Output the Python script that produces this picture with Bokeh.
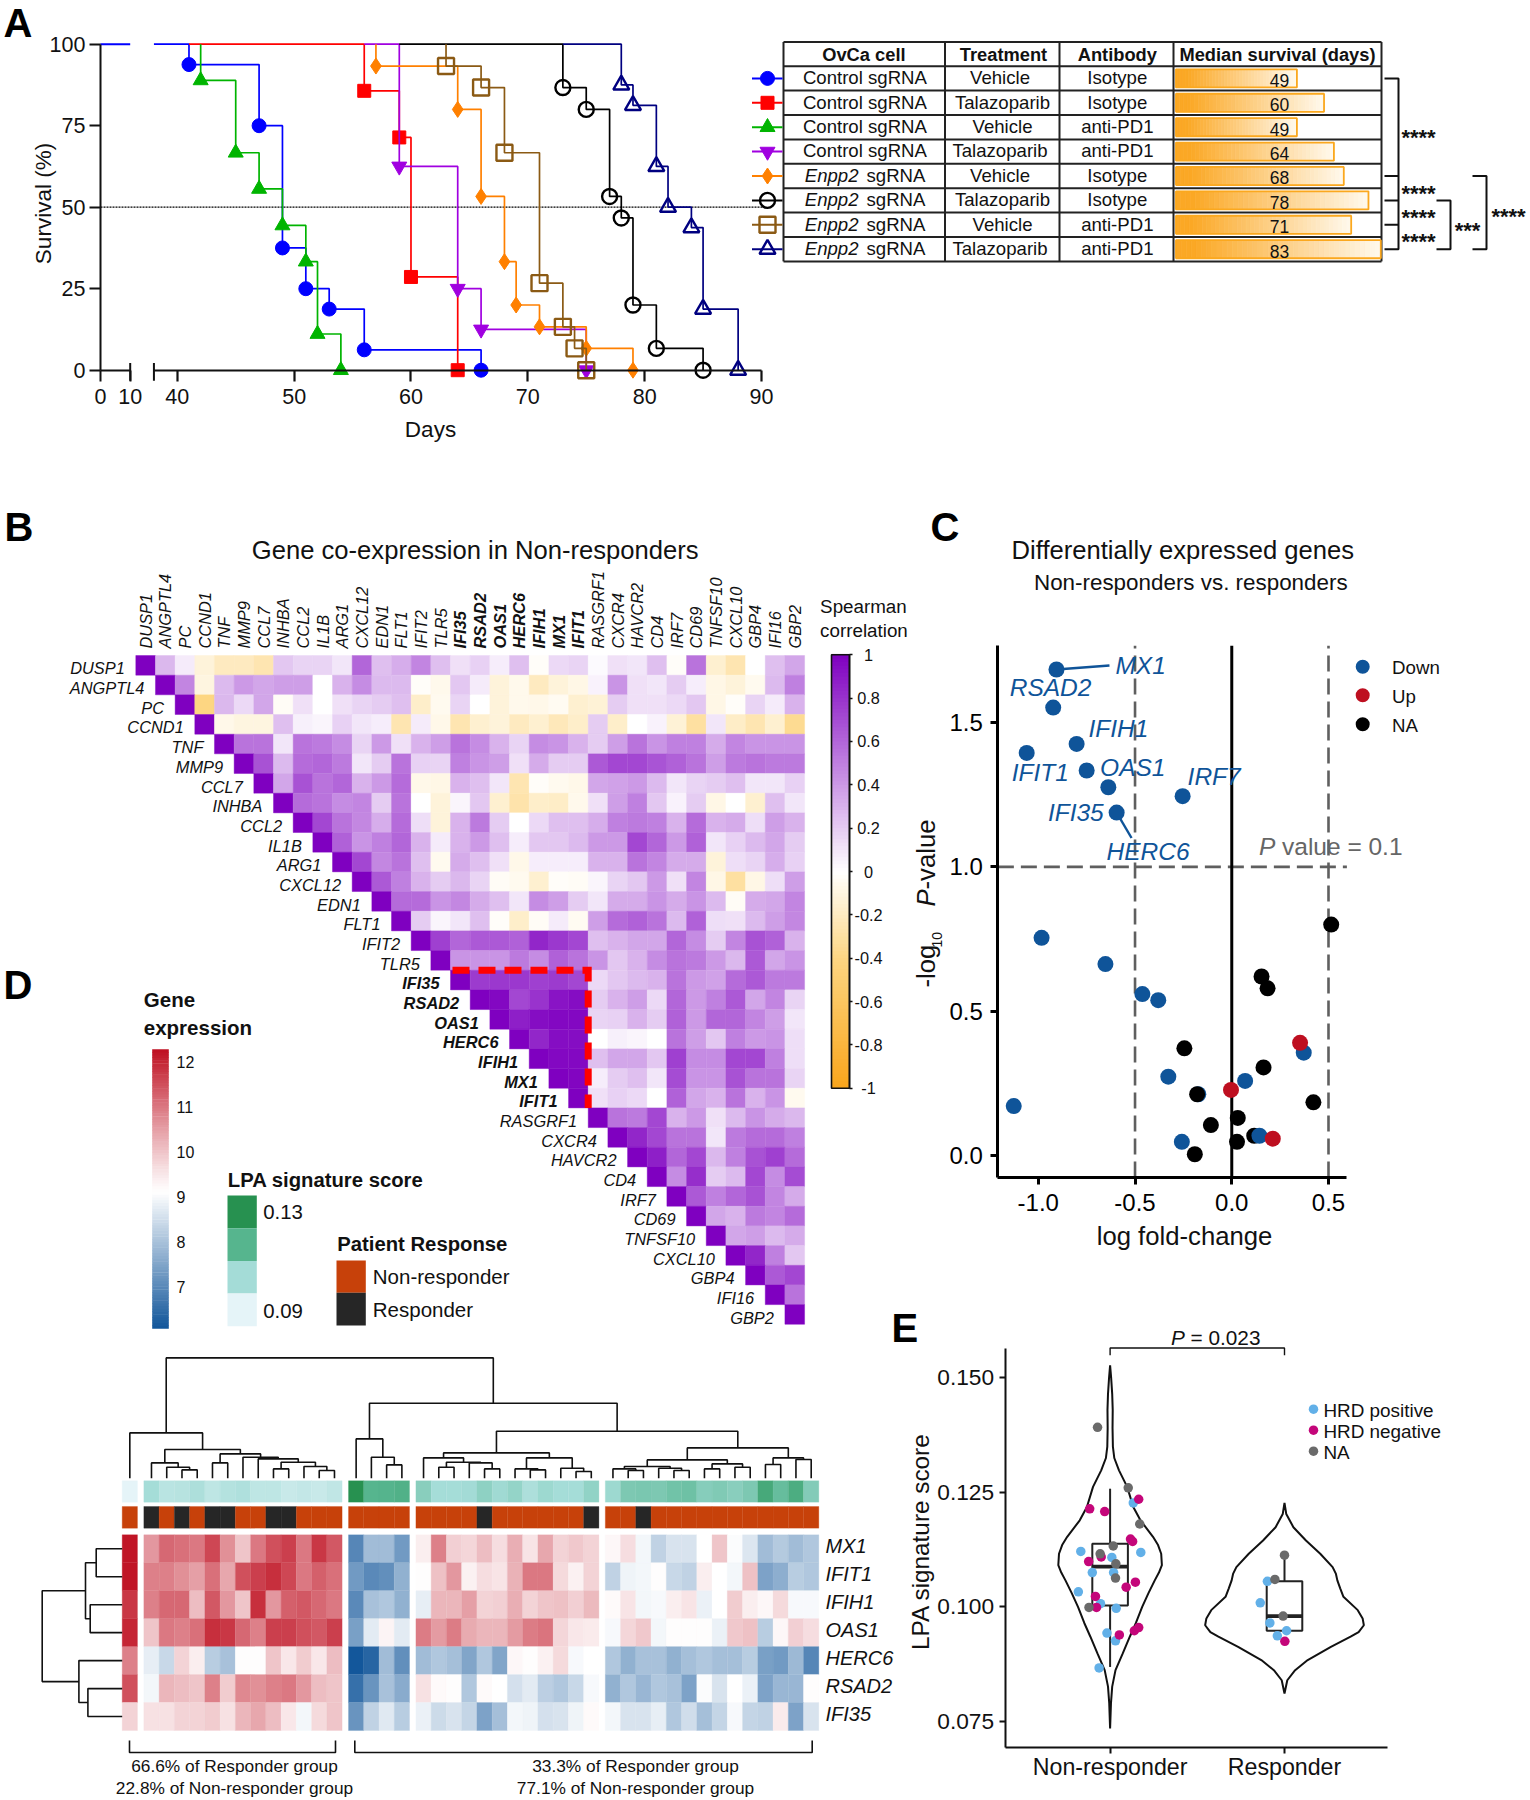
import math
from bokeh.plotting import figure
from bokeh.models import Range1d, LinearAxis, FixedTicker, PrintfTickFormatter
from bokeh.core.properties import value
from bokeh.embed import file_html
from bokeh.resources import INLINE

FONT = "Liberation Sans"
W, H = 1530, 1800

# ---------------- Panel A data ----------------
blue_d = [38, 41, 47, 49, 51, 53, 56, 66];      blue_s = [100, 93.75, 75, 37.5, 25, 18.75, 6.25, 0]
red_d = [41, 56, 59, 60, 64];                   red_s = [100, 85.7, 71.4, 28.6, 0]
green_d = [42, 42, 45, 47, 49, 51, 52, 54];     green_s = [100, 88.9, 66.7, 55.6, 44.4, 33.3, 11.1, 0]
purple_d = [56, 59, 64, 66, 75];                purple_s = [100, 62.5, 25, 12.5, 0]
orange_d = [57, 57, 64, 66, 68, 69, 71, 75, 79]; orange_s = [100, 93.3, 80, 53.3, 33.3, 20, 13.3, 6.7, 0]
black_d = [59, 73, 75, 77, 78, 79, 81, 85];     black_s = [100, 86.7, 80, 53.3, 46.7, 20, 6.7, 0]
brown_d = [63, 63, 66, 68, 71, 73, 74, 75];     brown_s = [100, 93.3, 86.7, 66.7, 26.7, 13.3, 6.7, 0]
navy_d = [73, 78, 79, 81, 82, 84, 85, 88];      navy_s = [100, 87.5, 81.25, 62.5, 50, 43.75, 18.75, 0]
cells = ["Control sgRNA"] * 4 + ["sgRNA"] * 4
treatment = ["Vehicle", "Talazoparib", "Vehicle", "Talazoparib", "Vehicle", "Talazoparib", "Vehicle", "Talazoparib"]
antibody = ["Isotype", "Isotype", "anti-PD1", "anti-PD1", "Isotype", "Isotype", "anti-PD1", "anti-PD1"]
median_days = [49, 60, 49, 64, 68, 78, 71, 83]

# ---------------- Panel B data ----------------
genes = ["DUSP1", "ANGPTL4", "PC", "CCND1", "TNF", "MMP9", "CCL7", "INHBA", "CCL2", "IL1B", "ARG1", "CXCL12", "EDN1",
         "FLT1", "IFIT2", "TLR5", "IFI35", "RSAD2", "OAS1", "HERC6", "IFIH1", "MX1", "IFIT1", "RASGRF1", "CXCR4",
         "HAVCR2", "CD4", "IRF7", "CD69", "TNFSF10", "CXCL10", "GBP4", "IFI16", "GBP2"]
bold_genes = ["IFI35", "RSAD2", "OAS1", "HERC6", "IFIH1", "MX1", "IFIT1"]
corr_rows = [
 [.28,.08,-.12,-.2,-.2,-.25,.22,.17,.17,.1,.6,.25,.32,.48,.25,.12,.18,.07,.25,-.02,.15,.17,.02,.12,.1,.25,-.02,.55,-.15,-.25,0,.25,.35],
 [.48,-.1,.27,.4,.35,.38,.38,0,.3,.45,.27,.27,-.02,-.06,.22,.08,-.12,-.06,-.2,-.12,-.08,.05,.42,.12,.1,.2,.07,-.08,-.12,-.05,.27,.5],
 [-.4,.28,.15,.35,-.03,.12,0,.12,.17,.2,.25,-.17,-.05,.17,0,-.12,-.06,-.07,-.04,-.15,-.13,.2,.12,.12,.15,.22,-.08,-.02,.17,.08,.3],
 [-.07,-.1,-.1,.25,.06,.04,.18,.1,.07,-.25,.08,-.07,-.25,-.15,-.12,-.2,-.15,-.22,-.17,.2,-.17,0,.05,-.13,-.3,.1,-.18,-.25,-.15,-.35],
 [.55,.55,.1,.55,.52,.45,.17,.4,.12,.3,.38,.55,.45,.3,.17,.45,.42,.3,.2,.38,.55,.42,.5,.5,.33,.48,.42,.42,.42],
 [.68,.27,.58,.6,.52,.1,.2,.55,.18,.17,.5,.42,.38,.12,.33,.2,.2,.65,.72,.72,.67,.62,.55,.38,.52,.55,.52,.52],
 [.35,.68,.55,.6,.3,.4,.58,-.07,-.08,.3,.25,.1,-.25,-.02,-.05,-.07,.35,.37,.4,.27,.1,.17,.2,.25,.1,.1,.18],
 [.58,.55,.45,.48,.2,.55,0,-.12,.04,.22,-.15,-.27,-.17,-.18,-.06,.12,.38,.5,.22,.05,.2,-.08,0,-.15,.25,.1],
 [.72,.55,.47,.32,.58,.13,-.12,.3,.52,.2,0,.15,.25,.25,.32,.5,.52,.5,.3,.58,.3,.33,.13,.38,.3],
 [.62,.42,.5,.6,.3,.08,.3,.4,.25,.07,.22,.22,.27,.4,.4,.72,.6,.4,.62,.1,.18,.27,.35,.2],
 [.72,.47,.55,.25,-.05,.33,.25,.12,-.07,.07,.07,.07,.3,.3,.55,.48,.33,.33,-.12,.13,.17,.32,.18],
 [.65,.5,.3,.2,.28,.17,-.03,-.05,-.15,-.02,-.03,.04,.17,.22,.4,.12,.48,-.08,-.3,-.08,.13,.38],
 [.58,.58,.42,.47,.33,.25,.1,.45,.38,.2,.1,.33,.33,.42,.33,.42,.27,-.03,.33,.35,.48],
 [.2,.04,.1,.25,-.02,-.17,-.03,.08,-.04,.38,.58,.62,.55,.27,.62,.13,.12,.27,.38,.47],
 [.75,.6,.65,.65,.62,.85,.78,.72,.25,.3,.35,.35,.6,.45,.2,.48,.68,.62,.3],
 [.42,.42,.42,.52,.45,.62,.55,.42,.22,.3,.45,.55,.52,.4,.28,.65,.35,.42],
 [.77,.78,.78,.75,.77,.72,.15,.22,.27,.3,.55,.4,.37,.58,.65,.52,.52],
 [.97,.72,.8,.92,.95,.2,.3,.38,.15,.6,.4,.5,.65,.35,.48,.17],
 [.88,.95,.97,.97,.17,.18,.3,.2,.62,.4,.6,.6,.48,.38,.1],
 [.85,.95,.95,0,.06,.04,0,.55,.38,.22,.5,.4,.42,.13],
 [.97,.97,.25,.35,.35,.22,.75,.45,.45,.72,.72,.5,.13],
 [.98,.07,.2,.25,.1,.7,.42,.42,.68,.55,.55,.17],
 [.12,.18,.15,0,.62,.35,.3,.55,.3,.42,-.05],
 [.55,.52,.72,.3,.4,.12,.27,.42,.33,.28],
 [.85,.72,.55,.55,.1,.52,.58,.58,.5],
 [.88,.6,.72,.28,.5,.68,.75,.58],
 [.45,.82,.2,.27,.72,.45,.7],
 [.65,.5,.6,.68,.48,.33],
 [.35,.3,.52,.48,.58],
 [.35,.38,.27,.33],
 [.85,.5,.22],
 [.65,.72],
 [.55],
 [],
]
corr_ticks = [1, .8, .6, .4, .2, 0, -.2, -.4, -.6, -.8, -1]
corr_tick_labels = ["1", "0.8", "0.6", "0.4", "0.2", "0", "-0.2", "-0.4", "-0.6", "-0.8", "-1"]

# ---------------- Panel C data ----------------
down_fc = [-.906,-.923,-.802,-1.06,-.75,-.638,-.254,-.595,-.983,-.653,-.462,-.38,.372,-.328,.069,-.173,-1.127,-.258,.143]
down_p = [1.684,1.552,1.426,1.395,1.334,1.276,1.245,1.188,.754,.663,.559,.538,.356,.273,.258,.212,.171,.047,.068]
up_fc = [.353,-.004,.212]
up_p = [.39,.227,.058]
na_fc = [.514,.154,.185,-.245,.164,-.179,.422,.031,-.108,.027,-.191]
na_p = [.80,.62,.579,.371,.305,.212,.184,.13,.105,.047,.004]
na_back_fc = [.116]
na_back_p = [.068]

# ---------------- Panel D data ----------------
hm_genes = ["MX1", "IFIT1", "IFIH1", "OAS1", "HERC6", "RSAD2", "IFI35"]
cluster_sizes = [1, 13, 4, 12, 14]
MX1 = [12.2, 10.6,11.2,11.1,11.0,11.6,10.7,10.0,11.0,11.5,11.7,11.0,11.8,11.4, 6.95,7.9,7.9,7.3,
       9.4,10.9,9.85,9.75,10.1,9.65,10.3,9.55,10.4,9.8,9.95,9.8, 9.25,9.65,8.95,8.3,8.6,8.6,9.1,10.0,9.05,8.65,7.9,8.15,7.9,8.1]
IFIT1 = [12.2, 10.9,10.9,10.7,10.5,11.1,10.4,11.5,11.7,11.9,11.6,11.0,11.3,11.1, 7.3,7.0,7.1,7.7,
         9.15,10.05,10.6,9.35,9.65,9.55,10.25,11.0,11.0,9.7,9.35,9.8, 8.3,8.9,8.95,9.15,8.4,8.3,9.4,9.1,8.95,10.05,7.45,7.65,8.2,8.1]
IFIH1 = [11.8, 10.9,11.2,11.2,10.1,11.4,10.6,10.0,11.9,10.6,11.3,11.4,11.2,11.0, 7.0,8.0,8.1,7.7,
         8.8,10.2,10.2,10.5,9.8,9.85,10.3,9.8,10.0,10.05,9.85,10.15, 9.2,9.55,8.95,9.0,9.4,9.55,8.85,9.1,9.9,9.4,9.25,9.7,9.0,9.0]
OAS1 = [12.0, 10.0,11.0,10.9,11.1,11.9,11.8,11.2,10.9,11.7,11.7,11.5,11.4,11.7, 7.4,8.75,9.3,8.75,
        10.95,10.55,10.95,10.35,10.2,10.2,10.55,10.95,11.05,9.75,9.5,9.45, 9.0,9.75,9.95,8.95,9.15,9.15,9.15,8.85,9.95,10.05,8.2,9.25,9.85,9.65]
HERC6 = [10.9, 8.8,8.4,9.8,9.4,8.2,8.0,9.15,9.15,10.0,9.5,9.9,9.5,10.1, 6.1,6.35,7.9,7.1,
         7.9,8.1,7.95,7.5,8.1,7.5,9.25,9.15,9.35,9.7,9.0,9.1, 8.1,7.7,8.0,8.0,7.7,7.95,8.1,7.95,7.95,8.2,7.4,7.3,7.85,6.95]
RSAD2 = [11.5, 8.95,10.2,10.1,10.0,10.9,9.9,10.8,10.7,10.9,11.0,10.6,10.1,10.0, 6.55,7.2,8.0,7.6,
         9.6,9.2,9.15,8.1,9.2,9.1,8.55,8.75,8.25,8.1,8.4,9.0, 7.7,8.1,7.8,8.1,8.0,7.45,9.05,8.6,9.1,8.85,7.45,7.8,7.8,9.15]
IFI35 = [9.8, 9.6,9.6,9.8,9.8,9.9,9.6,10.2,10.4,10.1,9.5,8.95,9.7,10.0, 7.2,8.3,8.7,8.2,
         8.85,8.45,8.6,8.35,7.45,7.95,8.95,8.9,8.55,8.6,8.9,9.2, 8.95,8.6,8.6,8.8,8.1,8.5,7.95,8.35,9.0,8.35,8.3,9.45,7.45,8.6]
lpa_score = [.09, .103,.099,.0995,.1015,.098,.100,.101,.098,.098,.096,.097,.096,.0975, .13,.1167,.117,.118,
             .108,.103,.103,.1035,.107,.104,.106,.1015,.1045,.103,.103,.1065,
             .1045, .11,.1105,.11,.112,.1125,.1085,.1095,.108,.11,.121,.114,.1195,.109]
response = [0, 1,0,1,0,1,1,0,0,1,1,0,0,0, 0,0,0,0, 0,0,0,0,1,0,0,0,0,0,0,1, 0,0,1,0,0,0,0,0,0,0,0,0,0,0]
col_tree = (120.3,
    (45.3, 0, (28.7, (15.3, 1, (11, 2, (8.3, 3, 4))),
               (24.3, (15.3, 5, 6), (21, 7, (19.3, 8, (16, (9.3, 9, 10), (11.7, 11, (7.7, 12, 13)))))))),
    (75, (39.3, 14, (21, 15, (13.3, 16, 17))),
     (47, (25.3, (20.3, 18, (16, (11, 19, 20), (15.3, 21, (9.3, 22, 23)))),
           (20.3, (9.3, 24, (8.3, 25, 26)), (10, 27, (6.7, 28, 29)))),
      (30.3, (18.3, (11.7, (9.3, 30, (7.7, 31, 32)), (10, 33, (7.7, 34, 35))),
              (14.3, (9.3, 36, 37), (11, 38, 39))),
       (20.3, (13.7, 40, 41), (18.7, 42, 43))))))
row_tree = (80, (36.7, (26, 0, 1), (32, 2, 3)), (43.3, 4, (34.3, 5, 6)))

# ---------------- Panel E data ----------------
v1_y = [.1527,.1500,.1465,.1430,.1390,.1350,.1325,.1298,.1262,.1218,.1189,.1153,.1135,.1116,.1091,.1075,.1058,.1030,.100,.0965,.0935,.0898,.0862,.0826,.0790,.0735]
v1_w = [0,.006,.012,.015,.014,.016,.024,.051,.098,.133,.174,.246,.275,.293,.297,.280,.256,.220,.184,.148,.113,.072,.031,.012,.005,0]
v2_y = [.1227,.1203,.1174,.1145,.1116,.1087,.1072,.1058,.1040,.1022,.0993,.0975,.096,.0945,.0935,.0913,.0884,.0862,.084,.0811]
v2_w = [0,.01,.051,.123,.205,.276,.295,.303,.32,.338,.42,.448,.455,.425,.379,.266,.133,.061,.016,0]
box_nr = dict(q1=.1003, med=.1088, q3=.1138, lo=.0869, hi=.1258)
box_r = dict(q1=.0948, med=.098, q3=.1056, lo=.0948, hi=.1112)
pos_x = [.832,1.010,.898,1.020,.818,.945,1.035,.982,1.031,.937,1.133,1.176,1.902,1.861,1.916,1.959,2.012]
pos_y = [.1121,.1108,.1075,.1075,.1033,.1007,.0997,.0943,.0926,.0867,.1227,.1119,.1056,.1009,.0965,.0937,.0948]
neg_x = [.883,.969,1.117,1.129,.949,.877,1.145,1.092,.916,.922,1.053,1.139,1.164,1.164,2.002]
neg_y = [.1214,.1208,.1148,.1143,.1109,.1099,.1054,.1043,.1023,.0999,.0939,.0948,.0955,.1235,.0925]
nna_x = [.928,1.104,1.170,1.018,.943,1.033,1.031,.879,2.0,1.945,1.992]
nna_y = [.1392,.126,.1181,.1133,.1116,.1094,.1063,.0999,.1113,.106,.098]

# ---------------- figure ----------------
p = figure(width=W, height=H, x_range=Range1d(0, W), y_range=Range1d(H, 0), x_axis_type=None, y_axis_type=None,
           toolbar_location=None, tools="", output_backend="svg", min_border=0, outline_line_color=None,
           margin=(0, 0, 0, 0))


def xr(name, v0, p0, v1, p1):
    k = (v1 - v0) / (p1 - p0)
    p.extra_x_ranges[name] = Range1d(v0 - p0 * k, v0 + (W - p0) * k)


def yr(name, v0, p0, v1, p1):
    k = (v1 - v0) / (p1 - p0)
    p.extra_y_ranges[name] = Range1d(v0 + (H - p0) * k, v0 - p0 * k)


def T(x, y, s, size, align="left", base="middle", style="normal", color="#111111", angle=0, xn="default", yn="default"):
    p.text(x=[x], y=[y], text=[s], text_font=value(FONT), text_font_size=f"{size}px", text_align=align,
           text_baseline=base, text_font_style=style, text_color=color, angle=angle, x_range_name=xn, y_range_name=yn)


def axis(side, xn, yn, loc, ticks, bounds, size, tick, standoff, lw=2, fmt=None, labels=None, color="#111111"):
    a = LinearAxis(x_range_name=xn, y_range_name=yn, fixed_location=loc, ticker=FixedTicker(ticks=ticks), bounds=bounds,
                   major_label_text_font=FONT, major_label_text_font_size=f"{size}px", major_tick_out=tick, major_tick_in=0,
                   minor_tick_line_color=None, major_label_standoff=standoff, axis_line_width=lw, major_tick_line_width=lw,
                   axis_line_color=color, major_tick_line_color=color, major_label_text_color=color)
    if fmt:
        a.formatter = PrintfTickFormatter(format=fmt)
    if labels:
        a.major_label_overrides = labels
    p.add_layout(a, side)
    return a


def lerp(c0, c1, f):
    return tuple(c0[i] + (c1[i] - c0[i]) * f for i in range(3))


def hexc(c):
    return "#%02x%02x%02x" % tuple(int(round(v)) for v in c)


# ---------------- letters ----------------
for s, x, y in [("A", 3, 22), ("B", 4, 526), ("C", 930, 526), ("D", 3, 984), ("E", 891, 1327)]:
    T(x, y, s, 40, style="bold", color="#000000")

# ---------------- Panel A ----------------
xr("a1", 0, 99.9, 10, 129.7)
xr("a2", 40, 176.8, 90, 761)
yr("ay", 0, 369.7, 100, 43.7)
xr("tabd", 0, 1175.5, 83, 1380.3)
yr("tab", 1, 77.9, 8, 248.7)

p.line([100, 762], [50, 50], y_range_name="ay", line_color="#000000", line_width=1.3, line_dash="2 1")
p.line([0, 10], [100, 100], x_range_name="a1", y_range_name="ay", line_color="#0000ff", line_width=2)
axis("left", "a1", "ay", 0, [0, 25, 50, 75, 100], (0, 100), 21.5, 11, 4)
axis("below", "a1", "ay", 0, [0, 10], (0, 10), 21.5, 11, 8)
axis("below", "a2", "ay", 0, [40, 50, 60, 70, 80, 90], (38, 90), 21.5, 11, 8, lw=2.2)
p.segment([10], [2.2], [10], [-3.2], x_range_name="a1", y_range_name="ay", line_color="#111111", line_width=2)
p.segment([38], [2.2], [38], [-3.2], x_range_name="a2", y_range_name="ay", line_color="#111111", line_width=2)

series = [
    (blue_d, blue_s, "#0000ff", "circle", 14, True),
    (red_d, red_s, "#ff0000", "square", 13, True),
    (green_d, green_s, "#00b400", "triangle", 15, True),
    (purple_d, purple_s, "#a000e0", "inverted_triangle", 15, True),
    (orange_d, orange_s, "#ff8000", "diamond", 16, True),
    (black_d, black_s, "#000000", "circle", 15, False),
    (brown_d, brown_s, "#8b5a14", "square", 16, False),
    (navy_d, navy_s, "#000080", "triangle", 16, False),
]
for d, s, c, m, sz, filled in series:
    p.step(d, s, mode="after", x_range_name="a2", y_range_name="ay", line_color=c, line_width=1.7)
    ex, ey = d[1:], s[1:]
    if filled:
        p.scatter(ex, ey, marker=m, size=sz, x_range_name="a2", y_range_name="ay", fill_color=c, line_color=c)
    else:
        p.scatter(ex, ey, marker=m, size=sz, x_range_name="a2", y_range_name="ay", fill_color=None, line_color=c, line_width=2.4)
T(42.5, 203, "Survival (%)", 22.5, align="center", angle=math.pi / 2)
T(430, 429, "Days", 22.5, align="center")

# table
tx0, tx1 = 783, 1381
col_x = [tx0, 944.5, 1059, 1173, tx1]
row_lines = [i + .5 for i in range(0, 9)]
for yv in row_lines:
    p.line([tx0, tx1], [yv, yv], y_range_name="tab", line_color="#222222", line_width=2)
p.line([tx0, tx1], [-.49, -.49], y_range_name="tab", line_color="#222222", line_width=2)
for xv in col_x:
    p.line([xv, xv], [-.49, 8.5], y_range_name="tab", line_color="#222222", line_width=2)
for x, s in [(863.4, "OvCa cell"), (1003, "Treatment"), (1116.8, "Antibody"), (1277, "Median survival (days)")]:
    T(x, 0, s, 18.3, align="center", style="bold", yn="tab")
for i in range(8):
    r = i + 1
    d, s, c, m, sz, filled = series[i]
    p.line([751.5, 782], [r, r], y_range_name="tab", line_color=c, line_width=2)
    p.scatter([767], [r], marker=m, size=sz, y_range_name="tab", fill_color=c if filled else None, line_color=c,
              line_width=1 if filled else 2.4)
    if i < 4:
        T(864.4, r - .03, cells[i], 18.6, align="center", yn="tab")
    else:
        T(858, r - .03, "Enpp2", 18.6, align="right", style="italic", yn="tab")
        T(866, r - .03, cells[i], 18.6, yn="tab")
    tc = 999.5 if treatment[i] == "Talazoparib" and i in (3, 7) else 1002
    T(tc if i not in (0, 4) else 999.5, r - .03, treatment[i], 18.6, align="center", yn="tab")
    T(1116.8, r - .03, antibody[i], 18.6, align="center", yn="tab")
    n = 40
    v = median_days[i]
    ls = [v * j / n for j in range(n)]
    rs = [v * (j + 1) / n for j in range(n)]
    cols = [hexc(lerp((251, 168, 37), (255, 248, 234), max(0, (j / (n - 1) - .08) / .92))) for j in range(n)]
    p.quad(left=ls, right=rs, bottom=[r - .37] * n, top=[r + .37] * n, x_range_name="tabd", y_range_name="tab",
           fill_color=cols, line_color=cols, line_width=.7)
    p.quad(left=[0], right=[v], bottom=[r - .37], top=[r + .37], x_range_name="tabd", y_range_name="tab",
           fill_color=None, line_color="#fba81e", line_width=1.8)
    T(1279, r + .08, str(v), 17.5, align="center", yn="tab")
# significance brackets
p.multi_line([[1384, 1398, 1398, 1384], [1384, 1398], [1384, 1398]], [[1, 1, 8, 8], [6, 6], [7, 7]], y_range_name="tab",
             line_color="#111111", line_width=2)
p.line([1384, 1398], [5, 5], y_range_name="tab", line_color="#111111", line_width=2)
p.line([1436, 1450, 1450, 1436], [6, 6, 8, 8], y_range_name="tab", line_color="#111111", line_width=2)
p.line([1472, 1486, 1486, 1472], [5, 5, 8, 8], y_range_name="tab", line_color="#111111", line_width=2)
for x, y, s in [(1418, 3.42, "****"), (1418, 5.72, "****"), (1418, 6.72, "****"), (1418, 7.67, "****"), (1467, 7.22, "***"), (1508, 6.67, "****")]:
    T(x, y, s, 22, align="center", base="middle", style="bold", yn="tab")

# ---------------- Panel B ----------------
CW = 19.67
xr("bx", 0, 135.3 + CW / 2, 33, 135.3 + 33.5 * CW)
yr("by", 0, 655 + CW / 2, 33, 655 + 33.5 * CW)


def corr_color(v):
    if v >= 0:
        return hexc(lerp((255, 255, 255), (127, 0, 192), v))
    f = -v
    if f < .4:
        return hexc(lerp((255, 255, 255), (253, 214, 130), f / .4))
    return hexc(lerp((253, 214, 130), (249, 165, 27), (f - .4) / .6))


hx, hy, hc = [], [], []
for i, row in enumerate(corr_rows):
    vals = [1.0] + row
    for k, v in enumerate(vals):
        hx.append(i + k)
        hy.append(i)
        hc.append(corr_color(v))
p.rect(x=hx, y=hy, width=1, height=1, x_range_name="bx", y_range_name="by", fill_color=hc, line_color=hc, line_width=.4)
for i, g in enumerate(genes):
    st = "bold italic" if g in bold_genes else "italic"
    T(i, 648, g, 16.4, angle=math.pi / 2, style=st, color="#111111", xn="bx")
    T(i - 1.06, i + .16, g, 16.4, align="right", style=st, xn="bx", yn="by")
p.line([15.6, 22.5, 22.5], [15.5, 15.5, 22.5], x_range_name="bx", y_range_name="by", line_color="#ff0000", line_width=7,
       line_dash="17 9", line_join="miter")
T(474.7, 549.8, "Gene co-expression in Non-responders", 25.6, align="center")
T(819.6, 606, "Spearman", 18.8)
T(819.6, 630, "correlation", 18.8)
# colour bar
yr("cby", 1, 654.3, -1, 1087.7)
n = 120
bs = [-1 + 2 * j / n for j in range(n)]
ts = [-1 + 2 * (j + 1) / n + .004 for j in range(n)]
p.quad(left=[831] * n, right=[849] * n, bottom=bs, top=ts, y_range_name="cby",
       fill_color=[corr_color((a + b) / 2) for a, b in zip(bs, ts)], line_color=None)
p.quad(left=[831], right=[849], bottom=[-1], top=[1], y_range_name="cby", fill_color=None, line_color="#111111", line_width=1.6)
axis("right", "default", "cby", 849, corr_ticks, (-1, 1), 1, 3, 0, lw=1.6, labels={t: "" for t in corr_ticks})
for t, s in zip(corr_ticks, corr_tick_labels):
    T(868, t, s, 16.3, align="center", yn="cby")

# ---------------- Panel C ----------------
xr("cx", -1, 1037.8, .5, 1328)
yr("cy", 0, 1154.9, 1.5, 722.1)
cl, cr, cb, ct = -1.209, .595, -.0766, 1.766
GREY = "#5f5f5f"
for xv in [-.5, .5]:
    p.line([xv, xv], [cb, ct], x_range_name="cx", y_range_name="cy", line_color=GREY, line_width=2.6, line_dash="16 7")
p.line([cl, cr], [1, 1], x_range_name="cx", y_range_name="cy", line_color=GREY, line_width=2.6, line_dash="16 7")
p.line([0, 0], [cb, ct], x_range_name="cx", y_range_name="cy", line_color="#000000", line_width=3)
axis("left", "cx", "cy", cl, [0, .5, 1, 1.5], (cb, ct), 24, 7, 8, lw=3, fmt="%.1f", color="#000000")
axis("below", "cx", "cy", cb, [-1, -.5, 0, .5], (cl, cr), 24, 7, 9, lw=3, fmt="%.1f", color="#000000")
CBLUE, CRED = "#0f5499", "#be0f20"
p.segment([-.906], [1.684], [-.632], [1.698], x_range_name="cx", y_range_name="cy", line_color=CBLUE, line_width=2.4)
p.segment([-.595], [1.188], [-.518], [1.10], x_range_name="cx", y_range_name="cy", line_color=CBLUE, line_width=2.4)
kw = dict(x_range_name="cx", y_range_name="cy", size=16, line_color=None)
p.scatter(na_back_fc, na_back_p, fill_color="#000000", **kw)
p.scatter(down_fc, down_p, fill_color=CBLUE, **kw)
p.scatter(na_fc, na_p, fill_color="#000000", **kw)
p.scatter(up_fc, up_p, fill_color=CRED, **kw)
for s, x, y in [("MX1", 1114.9, 665), ("RSAD2", 1009.2, 687.4), ("IFIH1", 1088, 727.5), ("IFIT1", 1011.2, 772.4),
                ("OAS1", 1099.6, 767.1), ("IRF7", 1187.1, 775.7), ("IFI35", 1047.4, 811.6), ("HERC6", 1106, 850.9)]:
    T(x, y, s, 24.5, style="italic", color=CBLUE)
T(1258.6, 846, "P", 24.5, style="italic", color="#666666")
T(1281.5, 846, "value = 0.1", 24.5, color="#666666")
T(1182.3, 549.8, "Differentially expressed genes", 25.6, align="center")
T(1190.3, 581.9, "Non-responders vs. responders", 22.4, align="center")
T(1184, 1235, "log fold-change", 25.7, align="center")
T(925, 987, "-log", 25.7, angle=math.pi / 2)
T(936, 947, "10", 14, angle=math.pi / 2)
T(925, 906, "P", 25.7, style="italic", angle=math.pi / 2)
T(925, 889, "-value", 25.7, angle=math.pi / 2)
for c, y, s in [(CBLUE, 666.2, "Down"), (CRED, 694.8, "Up"), ("#000000", 723.8, "NA")]:
    p.scatter([1362.2], [y], size=14, fill_color=c, line_color=None)
    T(1391.6, y + 1, s, 18.7)

# ---------------- Panel D ----------------
T(143.3, 999, "Gene", 20.5, style="bold")
T(143.3, 1027, "expression", 20.5, style="bold")
yr("gey", 12, 1061.7, 7, 1286)


def expr_color(v):
    if v >= 9.1:
        return hexc(lerp((255, 255, 255), (190, 13, 30), min(1, (v - 9.1) / 3.2) ** 1.12))
    return hexc(lerp((255, 255, 255), (15, 84, 153), min(1, (9.1 - v) / 3.05)))


n = 100
lo, hi = 6.06, 12.28
bs = [lo + (hi - lo) * j / n for j in range(n)]
ts = [lo + (hi - lo) * (j + 1) / n + .01 for j in range(n)]
p.quad(left=[151.7] * n, right=[168.3] * n, bottom=bs, top=ts, y_range_name="gey",
       fill_color=[expr_color((a + b) / 2) for a, b in zip(bs, ts)], line_color=None)
for t in [12, 11, 10, 9, 8, 7]:
    T(176, t, str(t), 16, yn="gey")
T(227.3, 1179, "LPA signature score", 20.3, style="bold")
lpa_leg = ["#279150", "#56b58e", "#a4dcd7", "#e5f4f8"]
for i, c in enumerate(lpa_leg):
    p.quad(left=[227], right=[256.3], top=[1195 + 32.7 * i], bottom=[1195 + 32.7 * (i + 1)], fill_color=c, line_color=None)
T(262.7, 1211, "0.13", 20.4)
T(262.7, 1310, "0.09", 20.4)
T(336.7, 1243, "Patient Response", 20.3, style="bold")
p.quad(left=[336], right=[365.3], top=[1260], bottom=[1292.3], fill_color="#c7410a", line_color=None)
p.quad(left=[336], right=[365.3], top=[1292.3], bottom=[1325], fill_color="#262626", line_color=None)
T(372.3, 1276, "Non-responder", 20.5)
T(372.3, 1309, "Responder", 20.5)

GAP = .42
xpos = []
for ci, sz in enumerate(cluster_sizes):
    start = sum(cluster_sizes[:ci])
    xpos += [start + j + GAP * ci for j in range(sz)]
CWD = 15.25
RH = 27.96
xr("hx", 0, 121.7 + CWD / 2, 10, 121.7 + CWD / 2 + 10 * CWD)
yr("hy", 0, 1534.3 + RH / 2, 6, 1534.3 + RH / 2 + 6 * RH)
yr("dy", 0, 1477.7, 100, 1377.7)
xr("rdx", 0, 121.7, 100, 21.7)

matrix = [MX1, IFIT1, IFIH1, OAS1, HERC6, RSAD2, IFI35]
mx, my, mc = [], [], []
for r, row in enumerate(matrix):
    for c, v in enumerate(row):
        mx.append(xpos[c])
        my.append(r)
        mc.append(expr_color(v))
p.rect(x=mx, y=my, width=1, height=1, x_range_name="hx", y_range_name="hy", fill_color=mc, line_color=mc, line_width=.3)


def lpa_color(v):
    stops = [(.09, (229, 244, 248)), (.1033, (164, 220, 215)), (.1167, (86, 181, 142)), (.13, (39, 145, 80))]
    for (a, ca), (b, cb_) in zip(stops, stops[1:]):
        if v <= b:
            return hexc(lerp(ca, cb_, max(0, (v - a) / (b - a))))
    return hexc(stops[-1][1])


lc = [lpa_color(v) for v in lpa_score]
rc = ["#262626" if v else "#c7410a" for v in response]
p.rect(x=xpos, y=[-2.05] * 44, width=1, height=.765, x_range_name="hx", y_range_name="hy", fill_color=lc, line_color=lc, line_width=.3)
p.rect(x=xpos, y=[-1.125] * 44, width=1, height=.775, x_range_name="hx", y_range_name="hy", fill_color=rc, line_color=rc, line_width=.3)


def tree_lines(node, pos, out):
    if isinstance(node, int):
        return pos[node], 0
    h, l, r = node
    xl, hl = tree_lines(l, pos, out)
    xr_, hr = tree_lines(r, pos, out)
    out.append(([xl, xl, xr_, xr_], [hl, h, h, hr]))
    return (xl + xr_) / 2, h


segs = []
tree_lines(col_tree, xpos, segs)
p.multi_line([s[0] for s in segs], [s[1] for s in segs], x_range_name="hx", y_range_name="dy", line_color="#111111", line_width=1.6)
segs = []
tree_lines(row_tree, list(range(7)), segs)
p.multi_line([s[1] for s in segs], [s[0] for s in segs], x_range_name="rdx", y_range_name="hy", line_color="#111111", line_width=1.6)
for r, g in enumerate(hm_genes):
    T(825, r - .09, g, 20, style="italic", yn="hy")
p.line([129, 129, 335, 335], [1740, 1752, 1752, 1740], line_color="#111111", line_width=1.6)
p.line([354.3, 354.3, 811.7, 811.7], [1740, 1752, 1752, 1740], line_color="#111111", line_width=1.6)
T(234, 1765, "66.6% of Responder group", 17.3, align="center")
T(234, 1787, "22.8% of Non-responder group", 17.3, align="center")
T(635, 1765, "33.3% of Responder group", 17.3, align="center")
T(635, 1787, "77.1% of Non-responder group", 17.3, align="center")

# ---------------- Panel E ----------------
xr("ex", 1, 1109.6, 2, 1284)
yr("ey", .075, 1721, .150, 1377.3)
el, er, eb, et = .398, 2.589, .0694, .1565
axis("left", "ex", "ey", el, [.075, .1, .125, .15], (eb, et), 22.7, 6, 5, fmt="%.3f")
axis("below", "ex", "ey", eb, [1, 2], (el, er), 23.2, 6, 1, labels={1: "Non-responder", 2: "Responder"})
for c, ys, ws in [(1, v1_y, v1_w), (2, v2_y, v2_w)]:
    xs = [c - w for w in ws] + [c + w for w in reversed(ws)]
    yy = ys + list(reversed(ys))
    p.line(xs, yy, x_range_name="ex", y_range_name="ey", line_color="#111111", line_width=2)
for c, b in [(1, box_nr), (2, box_r)]:
    hw = .102
    p.line([c, c], [b["lo"], b["q1"]], x_range_name="ex", y_range_name="ey", line_color="#222222", line_width=2)
    p.line([c, c], [b["q3"], b["hi"]], x_range_name="ex", y_range_name="ey", line_color="#222222", line_width=2)
    p.quad(left=[c - hw], right=[c + hw], bottom=[b["q1"]], top=[b["q3"]], x_range_name="ex", y_range_name="ey",
           fill_color=None, line_color="#222222", line_width=2)
    p.line([c - hw, c + hw], [b["med"], b["med"]], x_range_name="ex", y_range_name="ey", line_color="#222222", line_width=3.6)
POS, NEG, NNA = "#62b0e8", "#c4067a", "#6a6a6a"
ek = dict(x_range_name="ex", y_range_name="ey", size=9.5, line_color=None)
p.scatter(pos_x, pos_y, fill_color=POS, **ek)
p.scatter(neg_x, neg_y, fill_color=NEG, **ek)
p.scatter(nna_x, nna_y, fill_color=NNA, **ek)
p.line([1, 1, 2, 2], [.1549, .1565, .1565, .1549], x_range_name="ex", y_range_name="ey", line_color="#111111", line_width=1.4)
T(1170.5, 1336.7, "P", 20.8, style="italic")
T(1190, 1336.7, "= 0.023", 20.8)
T(919.6, 1541, "LPA signature score", 24.3, align="center", angle=math.pi / 2)
for c, y, s in [(POS, 1408.7, "HRD positive"), (NEG, 1429.7, "HRD negative"), (NNA, 1450.7, "NA")]:
    p.scatter([1313], [y], size=9.5, fill_color=c, line_color=None)
    T(1322.9, y + 1, s, 18.9)

open("out.html", "w").write(file_html(p, INLINE))
